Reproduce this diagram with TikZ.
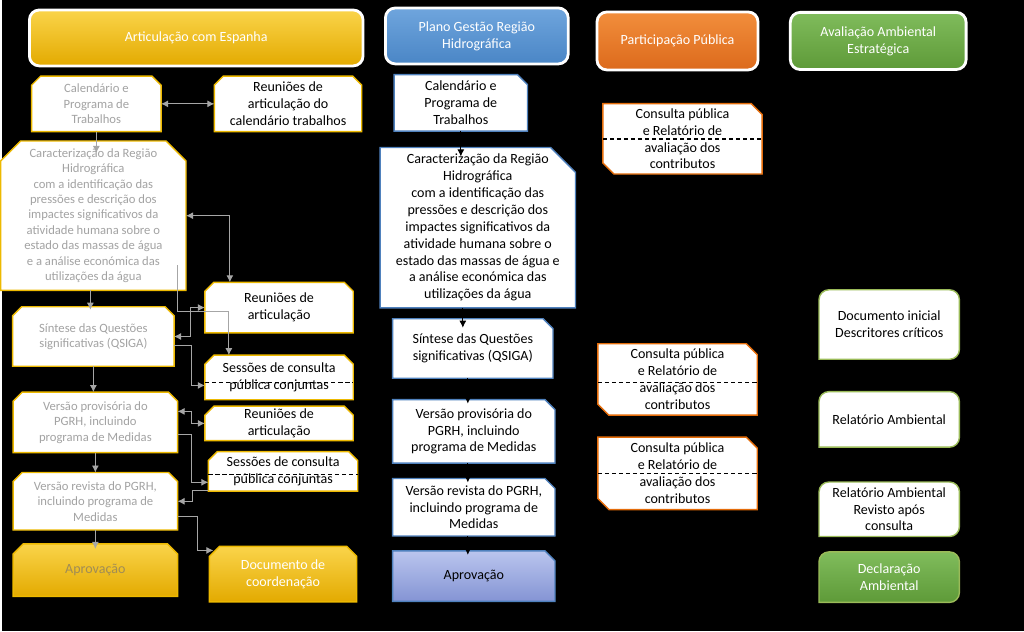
\documentclass[tikz,border=0pt]{standalone}
\usepackage{fontspec}
\setmainfont{Carlito}
\usetikzlibrary{calc, backgrounds, arrows.meta}

\definecolor{espY}{HTML}{EDB900}
\definecolor{goldT}{HTML}{FAD44A}
\definecolor{goldB}{HTML}{E3AA00}
\definecolor{pgrhB}{HTML}{4F81BD}
\definecolor{blueT}{HTML}{6FA5DD}
\definecolor{blueB}{HTML}{4A86C6}
\definecolor{ppO}{HTML}{E46C0A}
\definecolor{orT}{HTML}{F28E3C}
\definecolor{orB}{HTML}{DC6A1C}
\definecolor{aaeG}{HTML}{9BBB59}
\definecolor{grT}{HTML}{80BC5C}
\definecolor{grB}{HTML}{5E9A38}
\definecolor{lavT}{HTML}{BAC5EE}
\definecolor{lavB}{HTML}{8494D4}
\definecolor{grayT}{HTML}{A3A3A3}
\definecolor{lineG}{HTML}{A6A6A6}
\definecolor{aprovT}{HTML}{A08C55}

\tikzset{
  hdr/.style={rectangle, draw=white, line width=2pt, rounded corners=7pt, text=white, align=center},
  box/.style={rectangle, align=center, inner sep=1pt},
  espbox/.style={box, text=grayT, font=\fontsize{9}{11}\selectfont},
  espframe/.style={draw=espY, fill=white, line width=1pt},
  pgrhframe/.style={draw=pgrhB, fill=white, line width=1pt},
  ppframe/.style={draw=ppO, fill=white, line width=1pt},
  aaeframe/.style={draw=aaeG, fill=white, line width=1pt},
  gline/.style={draw=lineG, line width=0.7pt},
  bline/.style={draw=black, line width=0.7pt},
  dline/.style={draw=black, line width=1pt, dash pattern=on 3pt off 2pt},
}

% outlines, drawn behind the text of a node
\newcommand{\snipsame}[3]{%
  \begin{scope}[on background layer]
    \path[#3] (#1.south west) -- ($(#1.north west)+(0,#2)$) -- ($(#1.north west)+(#2,0)$) -- ($(#1.north east)+(-#2,0)$) -- ($(#1.north east)+(0,#2)$) -- (#1.south east) -- cycle;
  \end{scope}}
\newcommand{\snipone}[3]{%
  \begin{scope}[on background layer]
    \path[#3] (#1.south west) -- (#1.north west) -- ($(#1.north east)+(-#2,0)$) -- ($(#1.north east)+(0,#2)$) -- (#1.south east) -- cycle;
  \end{scope}}
\newcommand{\snipdiag}[3]{%
  \begin{scope}[on background layer]
    \path[#3] ($(#1.south west)+(#2,0)$) -- ($(#1.south west)+(0,-#2)$) -- (#1.north west) -- ($(#1.north east)+(-#2,0)$) -- ($(#1.north east)+(0,#2)$) -- (#1.south east) -- cycle;
  \end{scope}}
\newcommand{\roundsame}[2]{%
  \begin{scope}[on background layer]
    \path[#2] (#1.south west) [rounded corners=7pt] -- (#1.north west) -- (#1.north east) -- (#1.south east) [sharp corners] -- cycle;
  \end{scope}}

\begin{document}
\begin{tikzpicture}[x=0.025cm, y=-0.025cm, >={Latex[length=5pt, width=5pt]}, font=\fontsize{10}{12}\selectfont]

\begin{scope}[on background layer]
\fill[black] (0,0) rectangle (1024,632);
\end{scope}

\node[hdr, top color=goldT, bottom color=goldB, minimum width=8.35cm, minimum height=1.4cm] (esp) at (195,38) {Articulação com Espanha};
\node[hdr, top color=blueT, bottom color=blueB, minimum width=4.575cm, minimum height=1.4cm] (pgrh) at (476,36) {Plano Gestão Região\\Hidrográfica};
\node[hdr, top color=orT, bottom color=orB, minimum width=4.03cm, minimum height=1.45cm] (pp) at (677,41) {Participação Pública};
\node[hdr, top color=grT, bottom color=grB, minimum width=4.4cm, minimum height=1.43cm] (aae) at (878,41) {Avaliação Ambiental\\Estratégica};

\node[espbox, minimum width=3.225cm, minimum height=1.375cm] (espcal) at (95,104) {Calendário e\\Programa de\\Trabalhos};
\node[box, minimum width=3.675cm, minimum height=1.375cm] (espreun1) at (287,104) {Reuniões de\\articulação do\\calendário trabalhos};
\node[espbox, minimum width=4.625cm, minimum height=3.725cm] (espcarac) at (92,216) {Caracterização da Região\\Hidrográfica\\com a identificação das\\pressões e descrição dos\\impactes significativos da\\atividade humana sobre o\\estado das massas de água\\e a análise económica das\\utilizações da água};
\node[espbox, minimum width=4.025cm, minimum height=1.475cm] (espsint) at (92,337) {Síntese das Questões\\significativas (QSIGA)};
\node[espbox, minimum width=4.1cm, minimum height=1.5cm] (espprov) at (94,423) {Versão provisória do\\PGRH, incluindo\\programa de Medidas};
\node[espbox, minimum width=4.1cm, minimum height=1.425cm] (esprev) at (94,502) {Versão revista do PGRH,\\incluindo programa de\\Medidas};
\node[espbox, text=aprovT, font=\fontsize{10}{12}\selectfont, minimum width=4.1cm, minimum height=1.3cm] (espaprov) at (94,571) {Aprovação};
\node[box, minimum width=3.7cm, minimum height=1.25cm] (espreun2) at (278,308) {Reuniões de\\articulação};
\node[box, minimum width=3.7cm, minimum height=1.1cm] (espsess1) at (278,378) {Sessões de consulta\\pública conjuntas};
\node[box, minimum width=3.7cm, minimum height=0.85cm] (espreun3) at (278,424) {Reuniões de\\articulação};
\node[box, minimum width=3.725cm, minimum height=0.975cm] (espsess2) at (282,472) {Sessões de consulta\\pública conjuntas};
\node[box, text=white, minimum width=3.675cm, minimum height=1.375cm] (espdoc) at (282,575) {Documento de\\coordenação};
\foreach \n in {espcal, espreun1, espsint, espprov, esprev, espreun2, espsess1, espreun3, espsess2}
  \snipsame{\n}{9}{espframe};
\snipsame{espcarac}{20}{espframe}
\snipsame{espaprov}{10}{draw=espY, line width=1pt, top color=goldT, bottom color=goldB}
\snipsame{espdoc}{10}{draw=espY, line width=1pt, top color=goldT, bottom color=goldB}

\node[box, minimum width=3.325cm, minimum height=1.4cm] (cal) at (460,103) {Calendário e\\Programa de\\Trabalhos};
\node[box, minimum width=4.875cm, minimum height=4cm] (carac) at (477,228) {Caracterização da Região\\Hidrográfica\\com a identificação das\\pressões e descrição dos\\impactes significativos da\\atividade humana sobre o\\estado das massas de água e\\a análise económica das\\utilizações da água};
\node[box, minimum width=4cm, minimum height=1.475cm] (sint) at (472,349) {Síntese das Questões\\significativas (QSIGA)};
\node[box, minimum width=4.05cm, minimum height=1.575cm] (prov) at (473,432) {Versão provisória do\\PGRH, incluindo\\programa de Medidas};
\node[box, minimum width=4.05cm, minimum height=1.425cm] (rev) at (473,508) {Versão revista do PGRH,\\incluindo programa de\\Medidas};
\node[box, minimum width=4.05cm, minimum height=1.25cm] (aprov) at (473,577) {Aprovação};
\foreach \n in {cal, sint, prov, rev}
  \snipone{\n}{10}{pgrhframe};
\snipone{carac}{25}{pgrhframe}
\snipone{aprov}{10}{draw=pgrhB, line width=1pt, top color=lavT, bottom color=lavB}

\node[box, minimum width=3.975cm, minimum height=1.75cm] (cons1) at (682,139) {Consulta pública\\e Relatório de\\avaliação dos\\contributos};
\node[box, minimum width=3.975cm, minimum height=1.775cm] (cons2) at (677,380) {Consulta pública\\e Relatório de\\avaliação dos\\contributos};
\node[box, minimum width=3.975cm, minimum height=1.8cm] (cons3) at (677,474) {Consulta pública\\e Relatório de\\avaliação dos\\contributos};
\foreach \n in {cons1, cons2, cons3}
  \snipdiag{\n}{11}{ppframe};

\node[box, minimum width=3.5cm, minimum height=1.725cm] (docini) at (889,325) {Documento inicial\\Descritores críticos};
\node[box, minimum width=3.5cm, minimum height=1.375cm] (relamb) at (889,420) {Relatório Ambiental};
\node[box, minimum width=3.5cm, minimum height=1.35cm] (relrev) at (889,510) {Relatório Ambiental\\Revisto após\\consulta};
\node[box, text=white, minimum width=3.5cm, minimum height=1.25cm] (decl) at (889,578) {Declaração\\Ambiental};
\foreach \n in {docini, relamb, relrev}
  \roundsame{\n}{aaeframe};
\roundsame{decl}{draw=aaeG, line width=1pt, top color=grT, bottom color=grB}

\draw[dline] ($(espsess1.west)+(0,5)$) -- ($(espsess1.east)+(0,5)$);
\draw[dline] ($(espsess2.west)+(0,3)$) -- ($(espsess2.east)+(0,3)$);
\draw[dline] (cons1.west) -- (cons1.east);
\draw[dline] ($(cons2.west)+(0,3)$) -- ($(cons2.east)+(0,3)$);
\draw[dline] (cons3.west) -- (cons3.east);

\draw[gline, <->] (espcal) -- (espreun1);
\draw[gline, ->] (espcal.south) -- ($(espcal.south |- espcarac.north)+(0,12)$);
\draw[gline, ->] ($(espcarac.south)+(-3,0)$) -- ($(espsint.north)+(-3,3)$);
\draw[gline, ->] (espsint.south) -- (espsint.south |- espprov.north);
\draw[gline, ->] (espprov.south) -- (esprev.north);
\draw[gline, ->] (esprev.south) -- ($(espaprov.north)+(0,5)$);
\draw[gline, <->] (espcarac.east) -| ($(espreun2.north west)+(25,0)$);
\draw[gline, ->] ($(espcarac.south east)+(-9,-25)$) |- ($(espreun2.west)+(24,4)$) -- ($(espsess1.north west)+(24,0)$);
\draw[gline, <->] (espsint.east) -- ++(16,0) |- (espreun2.west);
\draw[gline, ->] ($(espsint.east)+(0,9)$) -- ++(17,0) |- ($(espsess1.west)+(0,8)$);
\draw[gline, <->] ($(espprov.east)+(0,-11)$) -- ++(14,0) |- (espreun3.west);
\draw[gline, ->] ($(espprov.east)+(0,12)$) -- ++(14,0) |- ($(espsess2.west)+(0,11)$);
\draw[gline, ->] ($(espsess2.west)+(0,19)$) -- ++(-16,0) |- (esprev.east);
\draw[gline, ->] ($(esprev.east)+(0,15)$) -- ++(20,0) |- ($(espdoc.north west)+(4,4)$);

\draw[bline, ->] (cal.south) -- ($(cal.south |- carac.north)+(0,9)$);
\draw[bline, ->] ($(carac.south)+(-15,0)$) -- ($(sint.north)+(-10,9)$);
\draw[bline, ->] ($(sint.south)+(-5,0)$) -- ($(prov.north)+(-6,4)$);
\draw[bline, ->] ($(prov.south)+(-6,0)$) -- ($(rev.north)+(-6,4)$);
\draw[bline, ->] ($(rev.south)+(-6,0)$) -- ($(aprov.north)+(-6,4)$);

\end{tikzpicture}
\end{document}
